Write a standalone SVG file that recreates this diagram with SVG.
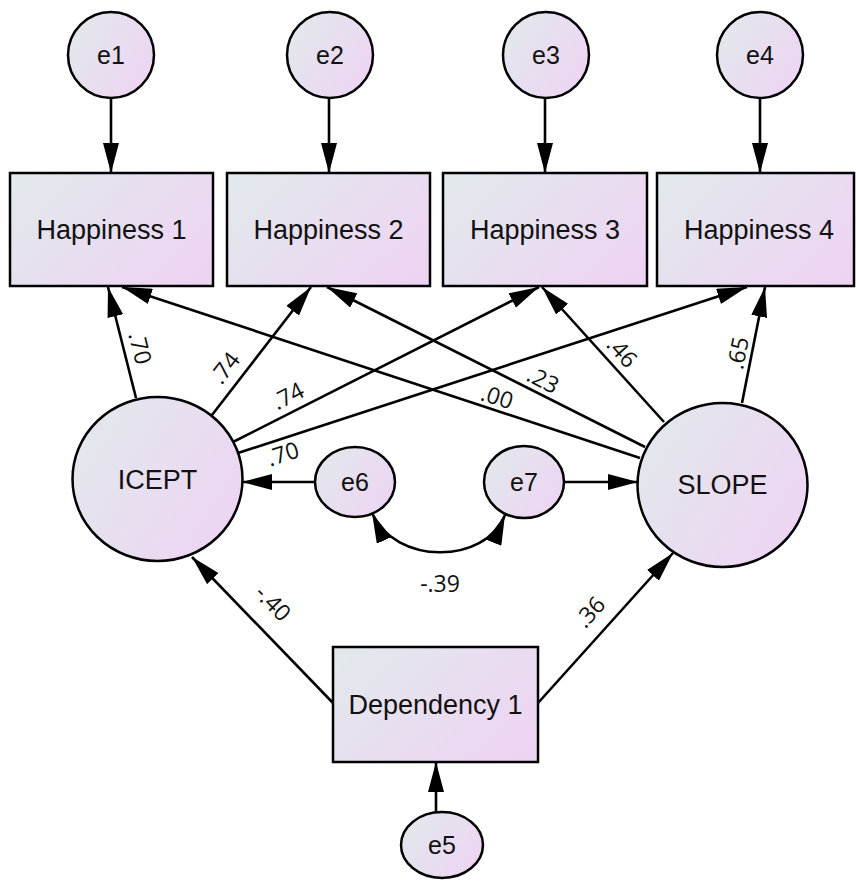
<svg xmlns="http://www.w3.org/2000/svg" width="856" height="884" viewBox="0 0 856 884">
<defs>
<linearGradient id="g" x1="0" y1="0.2" x2="1" y2="0.8">
<stop offset="0" stop-color="#e2e8ec"/>
<stop offset="1" stop-color="#eed4f3"/>
</linearGradient>
<marker id="ah" markerUnits="userSpaceOnUse" markerWidth="30" markerHeight="16" refX="30" refY="8" orient="auto-start-reverse">
<path d="M0,0 L30,8 L0,16 Z" fill="#000"/>
</marker>
<style>
.n{fill:url(#g);stroke:#000;stroke-width:2.5}
.t{font-family:"Liberation Sans",Arial,sans-serif;font-size:27px;fill:#111;text-anchor:middle}
.te{font-family:"Liberation Sans",Arial,sans-serif;font-size:25px;fill:#111;text-anchor:middle}
.c line,.c path{stroke:#000;stroke-width:2.6;fill:none;marker-end:url(#ah)}
.l{font-family:"Open Sans","Noto Sans",sans-serif;font-size:23px;fill:#111;text-anchor:middle}
</style>
</defs>
<rect width="856" height="884" fill="#fff"/>
<g class="c" id="connectors">
<line x1="111" y1="98" x2="111" y2="173"/>
<line x1="329" y1="98" x2="329" y2="173"/>
<line x1="545" y1="98" x2="545" y2="173"/>
<line x1="760" y1="98" x2="760" y2="173"/>
<line x1="136" y1="398" x2="108" y2="287"/>
<line x1="212" y1="415" x2="311" y2="287"/>
<line x1="233" y1="442" x2="539" y2="287"/>
<line x1="238" y1="453" x2="747" y2="287"/>
<line x1="640" y1="458" x2="122" y2="287"/>
<line x1="645" y1="447" x2="327" y2="287"/>
<line x1="664" y1="422" x2="542" y2="287"/>
<line x1="742" y1="403" x2="765" y2="287"/>
<line x1="315" y1="482" x2="242" y2="482"/>
<line x1="564" y1="482" x2="638" y2="482"/>
<line x1="333" y1="703" x2="192" y2="557"/>
<line x1="538" y1="703" x2="673" y2="553"/>
<line x1="436" y1="812" x2="436" y2="762"/>
<path d="M372,513 C395,565 485,565 505,515" style="marker-start:url(#ah)"/>
</g>
<g id="labels">
<text class="l" transform="translate(140,348) rotate(76)" dy="0.35em">.70</text>
<text class="l" transform="translate(225,368) rotate(-52)" dy="0.35em">.74</text>
<text class="l" transform="translate(288,396) rotate(-27)" dy="0.35em">.74</text>
<text class="l" transform="translate(283,454) rotate(-18)" dy="0.35em">.70</text>
<text class="l" transform="translate(497,397) rotate(18)" dy="0.35em">.00</text>
<text class="l" transform="translate(543,380) rotate(27)" dy="0.35em">.23</text>
<text class="l" transform="translate(622,352) rotate(48)" dy="0.35em">.46</text>
<text class="l" transform="translate(738,353) rotate(-79)" dy="0.35em">.65</text>
<text class="l" transform="translate(273,603) rotate(46)" dy="0.35em">-.40</text>
<text class="l" transform="translate(590,612) rotate(-48)" dy="0.35em">.36</text>
<text class="l" x="440" y="592">-.39</text>
</g>
<g id="e1"><circle class="n" cx="111" cy="55" r="43"/><text class="te" x="111" y="64">e1</text></g>
<g id="e2"><circle class="n" cx="330" cy="55" r="43"/><text class="te" x="330" y="64">e2</text></g>
<g id="e3"><circle class="n" cx="546" cy="55" r="43"/><text class="te" x="546" y="64">e3</text></g>
<g id="e4"><circle class="n" cx="760" cy="55" r="43"/><text class="te" x="760" y="64">e4</text></g>
<g id="h1"><rect class="n" x="10" y="173" width="203" height="113"/><text class="t" x="111.5" y="239">Happiness 1</text></g>
<g id="h2"><rect class="n" x="227" y="173" width="203" height="113"/><text class="t" x="328.5" y="239">Happiness 2</text></g>
<g id="h3"><rect class="n" x="443" y="173" width="204" height="113"/><text class="t" x="545" y="239">Happiness 3</text></g>
<g id="h4"><rect class="n" x="657" y="173" width="197" height="113"/><text class="t" x="759" y="239">Happiness 4</text></g>
<g id="icept"><ellipse class="n" cx="157.5" cy="479" rx="85" ry="82"/><text class="t" x="157.5" y="489">ICEPT</text></g>
<g id="slope"><ellipse class="n" cx="722.5" cy="485" rx="85" ry="82"/><text class="t" x="722.5" y="494">SLOPE</text></g>
<g id="e6"><ellipse class="n" cx="355" cy="482" rx="40" ry="35"/><text class="te" x="355" y="491">e6</text></g>
<g id="e7"><ellipse class="n" cx="524" cy="482" rx="40" ry="36"/><text class="te" x="524" y="491">e7</text></g>
<g id="dep"><rect class="n" x="333" y="647" width="205" height="115"/><text class="t" x="435.5" y="714">Dependency 1</text></g>
<g id="e5"><ellipse class="n" cx="442" cy="845" rx="41" ry="33"/><text class="te" x="442" y="854">e5</text></g>
</svg>
